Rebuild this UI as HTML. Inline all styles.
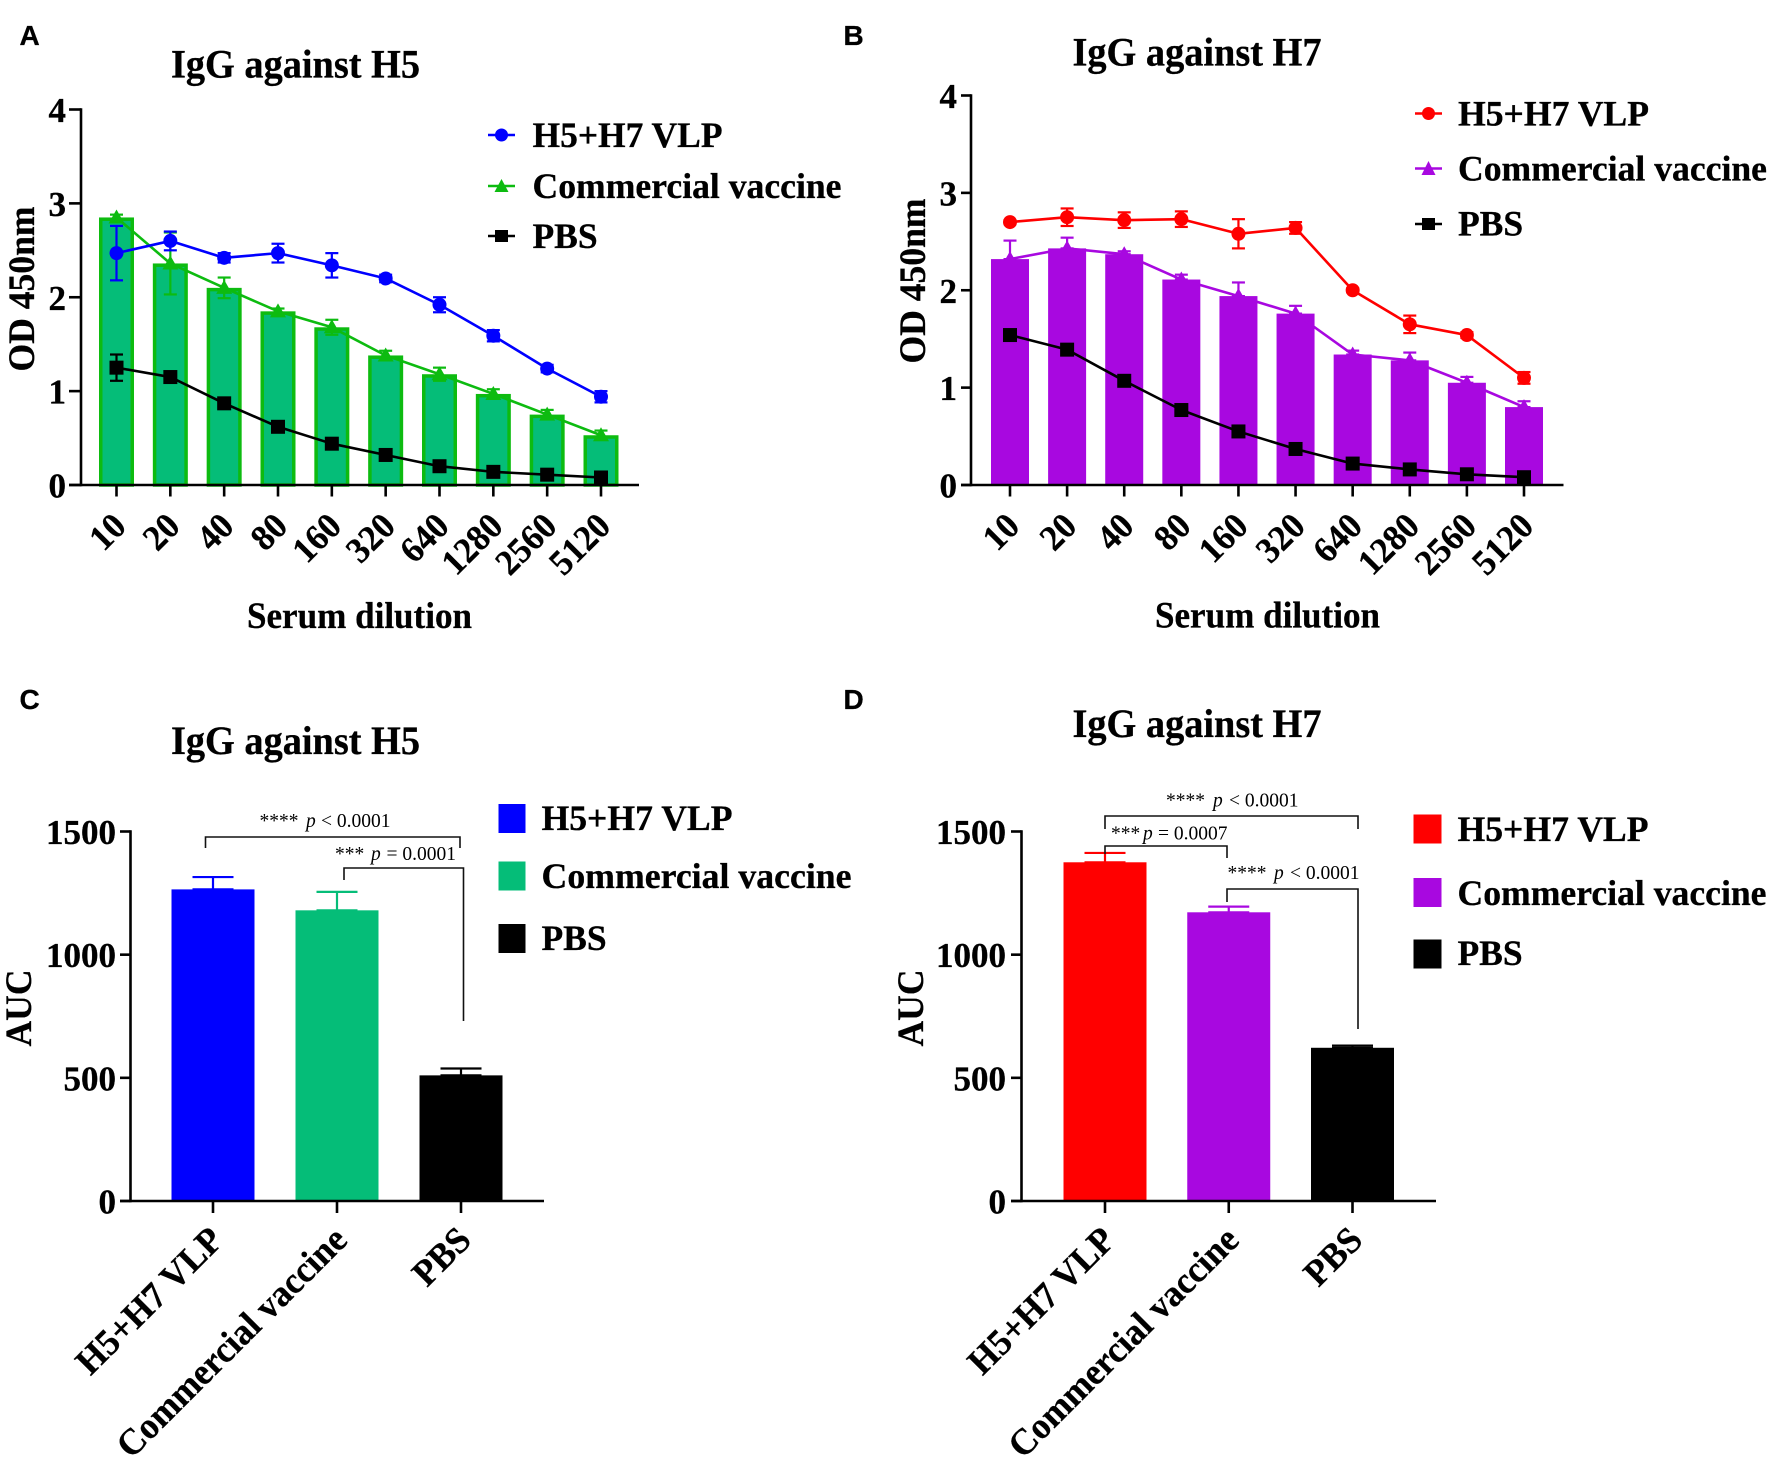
<!DOCTYPE html>
<html lang="en">
<head>
<meta charset="utf-8">
<title>IgG against H5 and H7</title>
<style>
html,body{margin:0;padding:0;background:#fff;}
svg{display:block;}
text{font-family:"Liberation Serif",serif;font-weight:bold;fill:#000;stroke:#000;stroke-width:.3px;}
.letter{font-family:"Liberation Sans",sans-serif;font-size:28px;}
.title{font-size:40px;}
.axt{font-size:37px;}
.leg{font-size:35.5px;}
.ann{font-size:19.5px;font-weight:normal;stroke:none;}
.ann-i{font-size:19.5px;font-weight:normal;font-style:italic;stroke:none;}
.br{fill:none;stroke:#111;stroke-width:1.6;}
</style>
</head>
<body>
<svg id="figure" xmlns="http://www.w3.org/2000/svg" width="1772" height="1461" viewBox="0 0 1772 1461">
  <rect x="0" y="0" width="1772" height="1461" fill="#fff"/>

  <text class="letter" x="19.5" y="45">A</text>
  <text class="letter" x="843.5" y="45">B</text>
  <text class="letter" x="19.5" y="709">C</text>
  <text class="letter" x="843.5" y="709">D</text>

  <text class="title" x="171" y="77.5" textLength="249" lengthAdjust="spacingAndGlyphs">IgG against H5</text>
  <text class="title" x="1072.5" y="65.5" textLength="249" lengthAdjust="spacingAndGlyphs">IgG against H7</text>
  <text class="title" x="171" y="754" textLength="249" lengthAdjust="spacingAndGlyphs">IgG against H5</text>
  <text class="title" x="1072.5" y="737" textLength="249" lengthAdjust="spacingAndGlyphs">IgG against H7</text>

  <text class="axt" x="247" y="628" textLength="225" lengthAdjust="spacingAndGlyphs">Serum dilution</text>
  <text class="axt" x="1155" y="627.5" textLength="225" lengthAdjust="spacingAndGlyphs">Serum dilution</text>
  <text class="axt" text-anchor="middle" transform="translate(34,289) rotate(-90)" textLength="165" lengthAdjust="spacingAndGlyphs">OD 450nm</text>
  <text class="axt" text-anchor="middle" transform="translate(925,281) rotate(-90)" textLength="165" lengthAdjust="spacingAndGlyphs">OD 450nm</text>
  <text class="axt" text-anchor="middle" transform="translate(31,1008) rotate(-90)" textLength="77" lengthAdjust="spacingAndGlyphs">AUC</text>
  <text class="axt" text-anchor="middle" transform="translate(923,1008) rotate(-90)" textLength="77" lengthAdjust="spacingAndGlyphs">AUC</text>

  <!-- Panel A legend -->
  <g>
    <line x1="488" y1="135" x2="515" y2="135" stroke="#0000ff" stroke-width="2.6"/>
    <circle cx="501.5" cy="135" r="6.5" fill="#0000ff"/>
    <text class="leg" x="532.5" y="147" textLength="190" lengthAdjust="spacingAndGlyphs">H5+H7 VLP</text>
    <line x1="488" y1="186" x2="515" y2="186" stroke="#0dbb10" stroke-width="2.6"/>
    <polygon points="501.5,179 508.5,192 494.5,192" fill="#0dbb10"/>
    <text class="leg" x="532.5" y="198" textLength="309" lengthAdjust="spacingAndGlyphs">Commercial vaccine</text>
    <line x1="488" y1="236" x2="515" y2="236" stroke="#000" stroke-width="2.6"/>
    <rect x="495" y="230" width="13" height="12" fill="#000"/>
    <text class="leg" x="532.5" y="248">PBS</text>
  </g>

  <!-- Panel B legend -->
  <g>
    <line x1="1415" y1="113.5" x2="1442" y2="113.5" stroke="#ff0000" stroke-width="2.6"/>
    <circle cx="1428.5" cy="113.5" r="6.5" fill="#ff0000"/>
    <text class="leg" x="1458" y="125.5" textLength="191" lengthAdjust="spacingAndGlyphs">H5+H7 VLP</text>
    <line x1="1415" y1="168.5" x2="1442" y2="168.5" stroke="#a808e0" stroke-width="2.6"/>
    <polygon points="1428.5,161 1435.5,175 1421.5,175" fill="#a808e0"/>
    <text class="leg" x="1458" y="180.5" textLength="309" lengthAdjust="spacingAndGlyphs">Commercial vaccine</text>
    <line x1="1415" y1="224" x2="1442" y2="224" stroke="#000" stroke-width="2.6"/>
    <rect x="1422" y="218" width="13" height="12" fill="#000"/>
    <text class="leg" x="1458" y="235.5">PBS</text>
  </g>

  <!-- Panel C legend -->
  <g>
    <rect x="498.5" y="804" width="27" height="29" fill="#0000ff"/>
    <text class="leg" x="541.5" y="830" textLength="191" lengthAdjust="spacingAndGlyphs">H5+H7 VLP</text>
    <rect x="498.5" y="861.5" width="27" height="29" fill="#05bd78"/>
    <text class="leg" x="541.5" y="888" textLength="310" lengthAdjust="spacingAndGlyphs">Commercial vaccine</text>
    <rect x="498.5" y="924" width="27" height="29" fill="#000"/>
    <text class="leg" x="541.5" y="950">PBS</text>
  </g>

  <!-- Panel D legend -->
  <g>
    <rect x="1413.5" y="814.5" width="28" height="29" fill="#ff0000"/>
    <text class="leg" x="1457.5" y="841" textLength="191" lengthAdjust="spacingAndGlyphs">H5+H7 VLP</text>
    <rect x="1413.5" y="878" width="28" height="29" fill="#a808e0"/>
    <text class="leg" x="1457.5" y="905" textLength="309" lengthAdjust="spacingAndGlyphs">Commercial vaccine</text>
    <rect x="1413.5" y="939.5" width="28" height="29" fill="#000"/>
    <text class="leg" x="1457.5" y="965">PBS</text>
  </g>

  <g id="marks"></g>

  <!-- Panel C significance -->
  <g>
    <path class="br" d="M205.5 848V837H460V848"/>
    <text class="ann" x="259.5" y="827">****</text>
    <text class="ann-i" x="306" y="827">p</text>
    <text class="ann" x="321" y="827">&lt; 0.0001</text>
    <path class="br" d="M344 880V868H463.5V1021"/>
    <text class="ann" x="335" y="860">***</text>
    <text class="ann-i" x="371" y="860">p</text>
    <text class="ann" x="386.5" y="860">= 0.0001</text>
  </g>

  <!-- Panel D significance -->
  <g>
    <path class="br" d="M1105 829V816H1358V829"/>
    <text class="ann" x="1166" y="806.5">****</text>
    <text class="ann-i" x="1213" y="806.5">p</text>
    <text class="ann" x="1229" y="806.5">&lt; 0.0001</text>
    <path class="br" d="M1105 854V846H1227V858"/>
    <text class="ann" x="1111" y="839.5">***</text>
    <text class="ann-i" x="1143" y="839.5">p</text>
    <text class="ann" x="1158" y="839.5">= 0.0007</text>
    <path class="br" d="M1227 902V889H1358V1029"/>
    <text class="ann" x="1227.5" y="879">****</text>
    <text class="ann-i" x="1274" y="879">p</text>
    <text class="ann" x="1290" y="879">&lt; 0.0001</text>
  </g>
</svg>

<script>
const dilutionLabels = ["10","20","40","80","160","320","640","1280","2560","5120"];
const odTicks = [0,1,2,3,4];
const aucTicks = [0,500,1000,1500];
const groupLabels = ["H5+H7 VLP","Commercial vaccine","PBS"];

const h5VlpOd = [2.47,2.60,2.42,2.47,2.34,2.20,1.92,1.59,1.24,0.94];
const h5VlpErr = [0.29,0.10,0.05,0.10,0.13,0.04,0.08,0.06,0.04,0.06];
const h5VaccineOd = [2.85,2.36,2.10,1.85,1.68,1.38,1.18,0.97,0.75,0.53];
const h5VaccineErr = [0.03,0.33,0.11,0.03,0.08,0.05,0.07,0.05,0.05,0.05];
const h5PbsOd = [1.25,1.15,0.87,0.62,0.44,0.32,0.20,0.14,0.11,0.08];
const h5PbsErr = [0.14,0.03,0.03,0.03,0.02,0.02,0.02,0.02,0.02,0.02];

const h7VlpOd = [2.70,2.75,2.72,2.73,2.58,2.64,2.00,1.65,1.54,1.10];
const h7VlpErr = [0.02,0.09,0.08,0.08,0.15,0.06,0.02,0.09,0.03,0.06];
const h7VaccineOd = [2.32,2.43,2.37,2.11,1.94,1.76,1.34,1.28,1.05,0.80];
const h7VaccineErr = [0.19,0.11,0.03,0.05,0.14,0.08,0.04,0.08,0.06,0.06];
const h7PbsOd = [1.54,1.39,1.07,0.77,0.55,0.37,0.22,0.16,0.11,0.08];
const h7PbsErr = [0.02,0.02,0.02,0.02,0.02,0.02,0.02,0.02,0.02,0.02];

const h5Auc = [1265,1180,510];
const h5AucErr = [50,75,28];
const h7Auc = [1375,1172,622];
const h7AucErr = [38,23,9];

const SVGNS = "http://www.w3.org/2000/svg";
const marks = document.getElementById("marks");

function make(tag, attrs, parent, text) {
  const node = document.createElementNS(SVGNS, tag);
  for (const k in attrs) node.setAttribute(k, attrs[k]);
  if (text !== undefined) node.textContent = text;
  parent.appendChild(node);
  return node;
}
function group(parent, name) {
  const g = make("g", {}, parent);
  
  
  return g;
}
function axisLine(parent, name, x1, y1, x2, y2, width) {
  const l = make("line", {x1:x1,y1:y1,x2:x2,y2:y2,stroke:"#000","stroke-width":width}, parent);
  
  
  return l;
}
function yTicksAndAxis(parent, prefix, ax, ticks, yScale, xLeft, xRight, fontSize, labelRight) {
  const yTop = yScale(ticks[ticks.length - 1]);
  const y0 = yScale(0);
  axisLine(parent, prefix + "-y-axis", ax, yTop - 1.3, ax, y0 + 1.3, 2.6);
  axisLine(parent, prefix + "-x-axis", xLeft, y0, xRight, y0, 2.6);
  ticks.forEach(function (v) {
    axisLine(parent, prefix + "-y-tick-" + v, xLeft, yScale(v), ax, yScale(v), 2.6);
    const t = make("text", {x: labelRight, y: yScale(v) + 12.5, "text-anchor": "end", "font-size": fontSize}, parent, String(v));
    
    
  });
}
function xTicks(parent, prefix, labels, xScale, y0, tickLen, fontSize, dx, labelY) {
  labels.forEach(function (lab, i) {
    const x = xScale(i);
    axisLine(parent, prefix + "-x-tick-" + lab, x, y0, x, y0 + tickLen, 2.6);
    const t = make("text", {"text-anchor": "end", "font-size": fontSize, transform: "translate(" + (x + dx) + "," + labelY + ") rotate(-45) scale(0.96,1)"}, parent, lab);
    
    
  });
}
function barRect(parent, name, x, w, top, bottom, fill, stroke) {
  const attrs = {x: x - w / 2, y: top, width: w, height: bottom - top, fill: fill};
  if (stroke) {
    attrs.stroke = stroke;
    attrs["stroke-width"] = 3.5;
    attrs.x = x - w / 2 + 1.75;
    attrs.width = w - 3.5;
    attrs.y = top + 1.75;
    attrs.height = bottom - top - 1.75;
  }
  const r = make("rect", attrs, parent);
  
  
}
function errorBar(parent, name, x, yHi, yLo, capW, color) {
  const g = group(parent, name);
  make("line", {x1:x,y1:yHi,x2:x,y2:yLo,stroke:color,"stroke-width":2.2}, g);
  make("line", {x1:x-capW/2,y1:yHi,x2:x+capW/2,y2:yHi,stroke:color,"stroke-width":2.2}, g);
  if (yLo !== null) make("line", {x1:x-capW/2,y1:yLo,x2:x+capW/2,y2:yLo,stroke:color,"stroke-width":2.2}, g);
}
function lineSeries(parent, prefix, values, errs, xScale, yScale, color, shape, bothWays) {
  const g = group(parent, prefix + "-series");
  values.forEach(function (v, i) {
    const hi = yScale(v + errs[i]);
    const lo = bothWays ? yScale(v - errs[i]) : yScale(v);
    errorBar(g, prefix + "-error-" + dilutionLabels[i], xScale(i), hi, lo, 13, color);
  });
  const pts = values.map(function (v, i) { return xScale(i) + "," + yScale(v); }).join(" ");
  const pl = make("polyline", {points: pts, fill: "none", stroke: color, "stroke-width": 2.6, "stroke-linejoin": "round"}, g);
  
  
  values.forEach(function (v, i) {
    const x = xScale(i), y = yScale(v);
    let m;
    if (shape === "circle") {
      m = make("circle", {cx: x, cy: y, r: 7, fill: color}, g);
    } else if (shape === "triangle") {
      m = make("polygon", {points: x + "," + (y - 8) + " " + (x + 8) + "," + (y + 6) + " " + (x - 8) + "," + (y + 6), fill: color}, g);
    } else {
      m = make("rect", {x: x - 7, y: y - 7, width: 14, height: 14, fill: color}, g);
    }
    
    
  });
}
function linear(d0, r0, d1, r1) {
  return function (v) { return r0 + (v - d0) * (r1 - r0) / (d1 - d0); };
}

function odPanel(prefix, cfg, vlp, vlpErr, vac, vacErr, pbs, pbsErr) {
  const g = group(marks, prefix + "-plot");
  const yScale = linear(0, cfg.y0, 4, cfg.y4);
  const xScale = linear(0, cfg.x0, 9, cfg.x9);
  vac.forEach(function (v, i) {
    barRect(g, prefix + "-bar-" + dilutionLabels[i], xScale(i), cfg.barW, yScale(v), cfg.y0, cfg.barFill, cfg.barStroke);
  });
  lineSeries(g, prefix + "-vaccine", vac, vacErr, xScale, yScale, cfg.vacColor, "triangle", cfg.vacBoth);
  lineSeries(g, prefix + "-vlp", vlp, vlpErr, xScale, yScale, cfg.vlpColor, "circle", true);
  lineSeries(g, prefix + "-pbs", pbs, pbsErr, xScale, yScale, "#000", "square", true);
  yTicksAndAxis(g, prefix, cfg.ax, odTicks, yScale, cfg.xLeft, cfg.xRight, 35, cfg.labelRight);
  xTicks(g, prefix, dilutionLabels, xScale, cfg.y0, 11.5, 36, 11.5, 528);
}
function aucPanel(prefix, cfg, vals, errs) {
  const g = group(marks, prefix + "-plot");
  const yScale = linear(0, 1201, 1500, 831.5);
  const xScale = linear(0, cfg.x0, 2, cfg.x2);
  vals.forEach(function (v, i) {
    const x = xScale(i);
    errorBar(g, prefix + "-error-" + groupLabels[i], x, yScale(v + errs[i]), yScale(v), cfg.capW, cfg.colors[i]);
    barRect(g, prefix + "-bar-" + groupLabels[i], x, 83, yScale(v), 1201, cfg.colors[i], null);
  });
  yTicksAndAxis(g, prefix, cfg.ax, aucTicks, yScale, cfg.xLeft, cfg.xRight, 35, cfg.labelRight);
  xTicks(g, prefix, groupLabels, xScale, 1201, 12, 37, 12, 1242);
}

odPanel("panel-a", {y0:485,y4:109.5,x0:116.5,x9:601,barW:35,barFill:"#05bd78",barStroke:"#0dbb10",vacColor:"#0dbb10",vlpColor:"#0000ff",ax:81,xLeft:69,xRight:639,labelRight:66,vacBoth:true},
  h5VlpOd, h5VlpErr, h5VaccineOd, h5VaccineErr, h5PbsOd, h5PbsErr);
odPanel("panel-b", {y0:485,y4:95.5,x0:1010,x9:1524,barW:38,barFill:"#a808e0",barStroke:null,vacColor:"#a808e0",vlpColor:"#ff0000",ax:971,xLeft:961,xRight:1563.5,labelRight:957,vacBoth:false},
  h7VlpOd, h7VlpErr, h7VaccineOd, h7VaccineErr, h7PbsOd, h7PbsErr);
aucPanel("panel-c", {x0:213,x2:461,capW:41,ax:130.5,xLeft:120,xRight:544,labelRight:116,colors:["#0000ff","#05bd78","#000"]}, h5Auc, h5AucErr);
aucPanel("panel-d", {x0:1105,x2:1352.5,capW:41,ax:1021.5,xLeft:1011,xRight:1436,labelRight:1006,colors:["#ff0000","#a808e0","#000"]}, h7Auc, h7AucErr);
</script>
</body>
</html>
